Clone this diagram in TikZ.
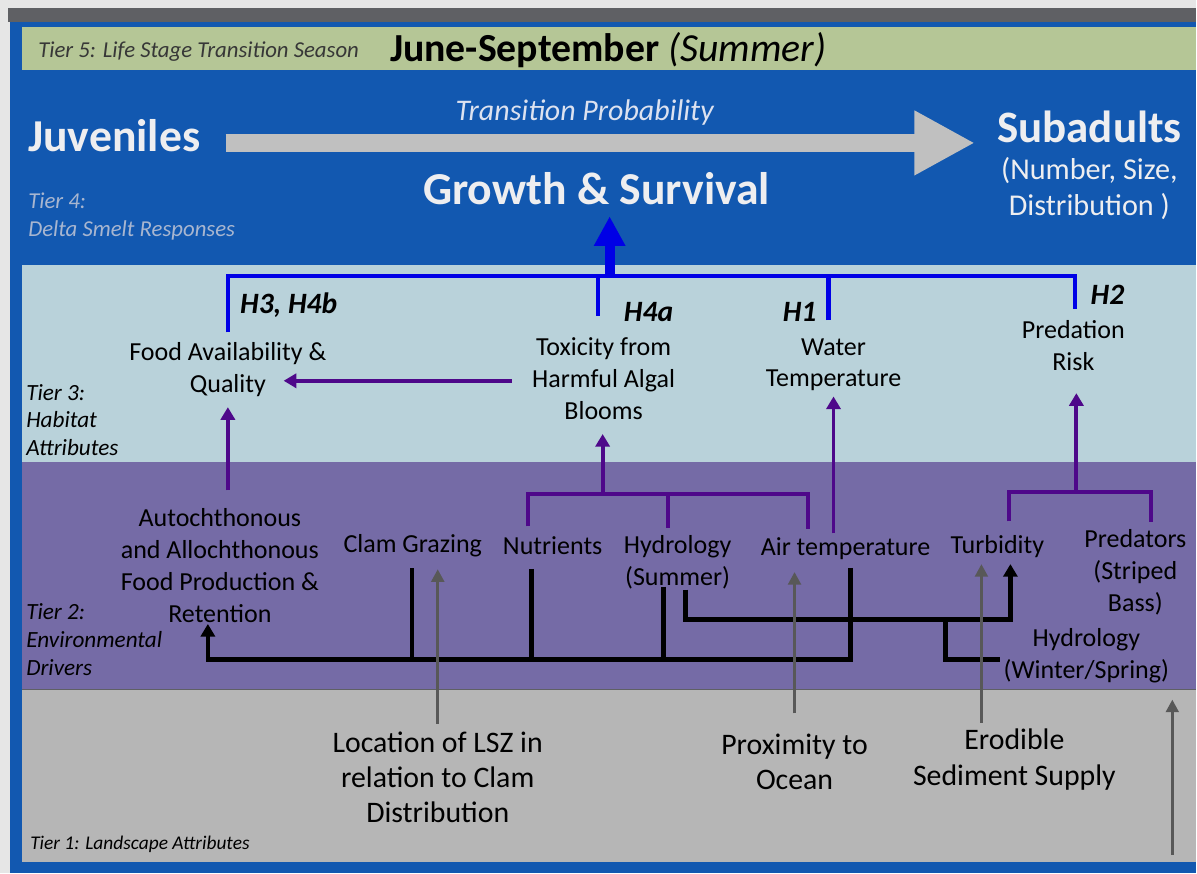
\documentclass[tikz,border=0pt]{standalone}
\usepackage{fontspec}
\setmainfont{Carlito}
\usetikzlibrary{arrows.meta, calc, positioning}

\definecolor{outergray}{RGB}{230,230,230}
\definecolor{topbar}{RGB}{95,96,100}
\definecolor{frameblue}{RGB}{18,88,176}
\definecolor{seasongreen}{RGB}{181,198,150}
\definecolor{habitatblue}{RGB}{185,210,218}
\definecolor{driverpurple}{RGB}{117,107,166}
\definecolor{landgray}{RGB}{182,182,182}
\definecolor{barblue}{RGB}{0,0,230}
\definecolor{linkpurple}{RGB}{78,8,138}
\definecolor{arrowgray}{RGB}{88,88,88}
\definecolor{bigarrowgray}{RGB}{192,192,192}
\definecolor{tiergray}{RGB}{55,55,55}
\definecolor{tierfour}{RGB}{168,182,208}
\definecolor{transtxt}{RGB}{220,226,240}
\definecolor{titlewhite}{RGB}{238,238,240}

\begin{document}
\begin{tikzpicture}[x=0.025cm, y=-0.025cm]
  \tikzstyle{every node}=[inner sep=0pt, align=center, font=\fontsize{18.5}{22.7}\selectfont]
  \tikzstyle{landattr}=[font=\fontsize{21.2}{25}\selectfont]
  \tikzstyle{tierlabel}=[anchor=west, align=left, font=\fontsize{16.5}{19.6}\selectfont\itshape]
  \tikzstyle{hyp}=[anchor=west, font=\fontsize{21}{24}\selectfont\bfseries\itshape]
  \tikzstyle{hbar}=[draw=barblue, line width=2.9pt]
  \tikzstyle{plink}=[draw=linkpurple, line width=2.8pt]
  \tikzstyle{parrow}=[plink, -{Triangle[width=10pt,length=9pt]}]
  \tikzstyle{blink}=[draw=black, line width=3.2pt]
  \tikzstyle{barrow}=[blink, -{Triangle[width=10pt,length=9pt]}]
  \tikzstyle{garrow}=[draw=arrowgray, line width=2.4pt, -{Triangle[width=9pt,length=9pt]}]

  % tier panels
  \fill[outergray] (0,0) rectangle (1197,874);
  \fill[topbar] (8,8) rectangle (1197,22);
  \fill[frameblue] (10,22) rectangle (1197,874);
  \fill[seasongreen] (22,27) rectangle (1197,70);
  \fill[habitatblue] (22,265) rectangle (1197,462);
  \fill[driverpurple] (22,462) rectangle (1197,690);
  \fill[landgray] (22,690) rectangle (1197,862);
  \draw[topbar, line width=1pt] (22,690) -- (1197,690);

  % tier 5 and 4
  \node[tierlabel, font=\fontsize{16.2}{18}\selectfont\itshape, text=tiergray] (t5) at (38,52) {Tier 5: Life Stage Transition Season};
  \node[anchor=west, font=\fontsize{28.3}{32}\selectfont] (season) at (390,50) {\textbf{June-September} \textit{(Summer)}};
  \node[font=\fontsize{21.3}{25}\selectfont\itshape, text=transtxt] (trans) at (585,113) {Transition Probability};
  \node[anchor=west, font=\fontsize{32.5}{36}\selectfont\bfseries, text=titlewhite] (juv) at (28,136) {Juveniles};
  \node[font=\fontsize{32}{36}\selectfont\bfseries, text=titlewhite] (sub) at (1090,127) {Subadults};
  \node[font=\fontsize{21.5}{25.6}\selectfont, text=titlewhite] (subinfo) at (1090,189) {(Number, Size,\\Distribution )};
  \node[font=\fontsize{32.5}{36}\selectfont\bfseries, text=titlewhite] (growth) at (597,189) {Growth \& Survival};
  \node[tierlabel, font=\fontsize{16.2}{19.9}\selectfont\itshape, text=tierfour] (t4) at (28,217) {Tier 4:\\Delta Smelt Responses};

  % tier 3
  \node[hyp] (h3) at (240,305) {H3, H4b};
  \node[hyp] (h4a) at (624,312) {H4a};
  \node[hyp] (h1) at (783,312) {H1};
  \node[hyp] (h2) at (1091,295) {H2};
  \node (food) at (228,370) {Food Availability \&\\Quality};
  \node (toxic) at (604,379) {Toxicity from\\Harmful Algal\\Blooms};
  \node (water) at (834,365) {Water\\Temperature};
  \node (pred) at (1074,346) {Predation\\Risk};
  \node[tierlabel] (t3) at (26,420) {Tier 3:\\Habitat\\Attributes};

  % tier 2
  \node (auto) at (220,566) {Autochthonous\\and Allochthonous\\Food Production \&\\Retention};
  \node (clam) at (413,546) {Clam Grazing};
  \node (nutr) at (553,546) {Nutrients};
  \node (hydsum) at (678,563) {Hydrology\\(Summer)};
  \node (air) at (846,549) {Air temperature};
  \node (turb) at (998,547) {Turbidity};
  \node (predators) at (1136,573) {Predators\\(Striped\\Bass)};
  \node (hydws) at (1087,656) {Hydrology\\(Winter/Spring)};
  \node[tierlabel] (t2) at (26,640) {Tier 2:\\Environmental\\Drivers};

  % tier 1
  \node[landattr] (lsz) at (438,778) {Location of LSZ in\\relation to Clam\\Distribution};
  \node[landattr] (prox) at (795,762) {Proximity to\\Ocean};
  \node[landattr] (erod) at (1015,760) {Erodible\\Sediment Supply};
  \node[tierlabel, font=\fontsize{13.8}{16}\selectfont\itshape] (t1) at (30,845) {Tier 1: Landscape Attributes};

  % life stage transition
  \draw[bigarrowgray, line width=12.8pt, -{Triangle[width=43pt,length=43pt]}]
    ($(juv.east)+(25,7)$) -- ($(juv.east -| sub.west)+(-22,7)$);

  % hypotheses to growth & survival
  \coordinate (hbus) at (610,276);
  \draw[hbar] ($(food.north)+(0,-10)$) |- (hbus) -| ($(pred.north)+(2,-11)$);
  \draw[hbar] ($(toxic.north)+(-6,-22)$) -- ($(toxic.north |- hbus)+(-6,0)$);
  \draw[hbar] ($(water.north)+(-5,-18)$) -- ($(water.north |- hbus)+(-5,0)$);
  \draw[hbar, line width=7pt, -{Triangle[width=21pt,length=21pt]}] (hbus) -- ($(hbus |- growth.south)+(0,11)$);

  % drivers to habitat
  \draw[parrow] ($(toxic.west)+(-20,2)$) -- ($(food.east |- toxic.west)+(-43,2)$);
  \draw[parrow] ($(food.south |- auto.north)+(0,-18)$) -- ($(food.south)+(0,10)$);
  \coordinate (nb) at (603,494);
  \draw[plink] ($(nutr.north)+(-25,-10)$) |- (nb) -| ($(air.north)+(-38,-8)$);
  \draw[plink] ($(hydsum.north)+(-10,-8)$) -- ($(hydsum.north |- nb)+(-10,0)$);
  \draw[parrow] (nb) -- ($(nb |- toxic.south)+(0,14)$);
  \draw[parrow] ($(water.south |- air.north)+(0,-4)$) -- ($(water.south)+(0,5)$);
  \coordinate (pj) at (1077,492);
  \draw[plink] ($(turb.north)+(12,-14)$) |- (pj) -| ($(predators.north)+(16,-8)$);
  \draw[parrow] (pj) -- ($(pj |- pred.south)+(0,22)$);

  % environmental drivers
  \coordinate (fb) at (208,660);
  \draw[barrow] ($(air.south)+(5,8)$) |- (fb) -- ($(fb |- auto.south)+(0,1)$);
  \draw[blink] ($(clam.south)+(-1,11)$) -- ($(clam.south |- fb)+(-1,0)$);
  \draw[blink] ($(nutr.south)+(-21,14)$) -- ($(nutr.south |- fb)+(-21,0)$);
  \draw[blink] ($(hydsum.south)+(-14,-3)$) -- ($(hydsum.south |- fb)+(-14,0)$);
  \coordinate (tb) at (946,620);
  \draw[barrow] ($(hydsum.south)+(8,0)$) |- (tb) -| ($(turb.south)+(13,6)$);
  \draw[blink] (tb) |- ($(hydws.west)+(-3,4)$);

  % landscape attributes
  \draw[garrow] ($(lsz.north)+(0,-8)$) -- ($(lsz.north |- clam.south)+(0,12)$);
  \draw[garrow] ($(prox.north)+(0,-20)$) -- ($(prox.north |- air.south)+(0,12)$);
  \draw[garrow] ($(erod.north)+(-33,-6)$) -- ($(erod.north |- turb.south)+(-33,6)$);
  \coordinate (edgeB) at (1173,855);
  \coordinate (edgeT) at (1173,700);
  \draw[garrow] (edgeB) -- (edgeT);

  \useasboundingbox (0,0) rectangle (1197,874);
\end{tikzpicture}
\end{document}
